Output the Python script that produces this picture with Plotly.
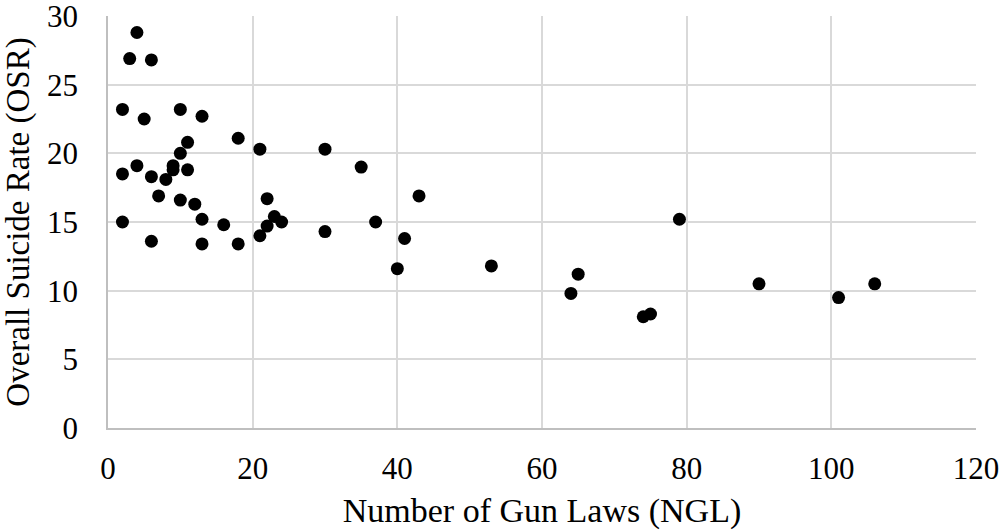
import plotly.graph_objects as go

ngl = [4, 3, 6, 2, 5, 10, 13, 18, 21, 11, 10, 2, 4, 6, 8, 9, 9, 11, 7, 10, 12, 13, 16, 2,
       22, 23, 24, 22, 6, 13, 18, 21, 30, 35, 43, 30, 37, 41, 40, 53, 65, 64, 74, 75, 79,
       90, 101, 106]
osr = [28.8, 26.9, 26.8, 23.2, 22.5, 23.2, 22.7, 21.1, 20.3, 20.8, 20.0, 18.5, 19.1, 18.3,
       18.1, 19.1, 18.8, 18.8, 16.9, 16.6, 16.3, 15.2, 14.8, 15.0, 16.7, 15.4, 15.0, 14.7,
       13.6, 13.4, 13.4, 14.0, 20.3, 19.0, 16.9, 14.3, 15.0, 13.8, 11.6, 11.8, 11.2, 9.8,
       8.1, 8.3, 15.2, 10.5, 9.5, 10.5]

x_ticks = [0, 20, 40, 60, 80, 100, 120]
y_ticks = [0, 5, 10, 15, 20, 25, 30]

font_family = "Times New Roman, Liberation Serif, Tinos, DejaVu Serif, serif"

fig = go.Figure()
fig.add_trace(go.Scatter(
    x=ngl, y=osr, mode="markers",
    marker=dict(color="black", size=13, line=dict(width=0)),
    showlegend=False, hoverinfo="x+y",
))

fig.update_layout(
    width=1002, height=531,
    margin=dict(l=108, r=26, t=16, b=103, autoexpand=False),
    paper_bgcolor="white", plot_bgcolor="white",
    font=dict(family=font_family, color="black", size=30),
)
fig.update_xaxes(
    range=[0, 120], tickvals=x_ticks, ticktext=[str(v) for v in x_ticks],
    showgrid=True, gridcolor="#d9d9d9", gridwidth=1.5,
    showline=True, linecolor="#bfbfbf", linewidth=1.5,
    zeroline=False, ticks="", ticklabelstandoff=12, automargin=False,
    ticklabeloverflow="allow",
    tickfont=dict(size=31, family=font_family, color="black"),
    title=dict(text="Number of Gun Laws (NGL)", font=dict(size=34, family=font_family, color="black"), standoff=13),
)
fig.update_yaxes(
    range=[0, 30], tickvals=y_ticks, ticktext=[str(v) for v in y_ticks],
    showgrid=True, gridcolor="#d9d9d9", gridwidth=1.5,
    showline=True, linecolor="#bfbfbf", linewidth=1.5,
    zeroline=False, ticks="", ticklabelstandoff=22, automargin=False,
    ticklabeloverflow="allow",
    tickfont=dict(size=31, family=font_family, color="black"),
    title=dict(text="Overall Suicide Rate (OSR)", font=dict(size=33, family=font_family, color="black"), standoff=8),
)

fig.write_html("out.html")
